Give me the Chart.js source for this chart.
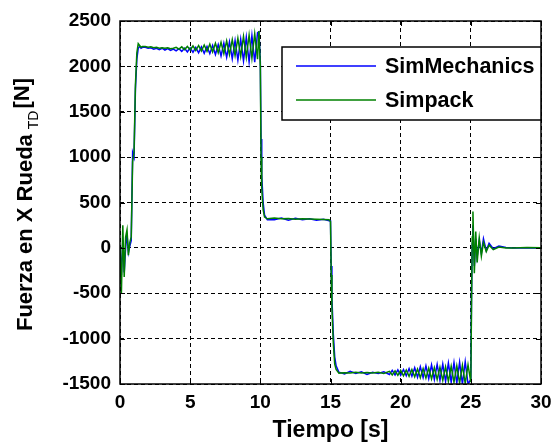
<!DOCTYPE html>
<html>
<head>
<meta charset="utf-8">
<script src="https://cdn.jsdelivr.net/npm/chart.js@4.4.1/dist/chart.umd.min.js"></script>
<style>
  body { margin: 0; background: #fff; }
  canvas { display: block; }
</style>
</head>
<body>
<canvas id="fuerzaChart" width="553" height="444"></canvas>
<script>
/*--datos--*/
var tiempo = [
  0, 0.1, 0.2, 0.3, 0.4, 0.5, 0.6, 0.7, 0.8, 0.9, 1.0, 1.1, 1.2, 1.3, 1.4, 1.5, 1.6,
  1.8, 2.0, 2.2, 2.4, 2.6, 2.8, 3.0, 3.2, 3.4, 3.6, 3.8, 4.0, 4.2, 4.4, 4.6, 4.8, 5.0,
  5.2, 5.4, 5.6, 5.8, 6.0, 6.2, 6.4, 6.6, 6.8, 7.0, 7.2, 7.4, 7.6, 7.8, 8.0, 8.2, 8.4,
  8.6, 8.8, 9.0, 9.2, 9.4, 9.6, 9.8,
  9.9, 10.0, 10.05, 10.1, 10.2, 10.3, 10.5,
  11.0, 11.5, 12.0, 12.5, 13.0, 13.5, 14.0, 14.5, 14.9,
  15.0, 15.05, 15.1, 15.2, 15.3, 15.4,
  15.6, 16.0, 16.4, 16.8, 17.2, 17.6, 18.0, 18.4, 18.8,
  19.2, 19.4, 19.6, 19.8, 20.0, 20.2, 20.4, 20.6, 20.8, 21.0, 21.2, 21.4, 21.6, 21.8,
  22.0, 22.2, 22.4, 22.6, 22.8, 23.0, 23.2, 23.4, 23.6, 23.8, 24.0, 24.2, 24.4, 24.6, 24.8,
  25.0, 25.05, 25.1, 25.15, 25.25, 25.35, 25.45, 25.6, 25.75, 25.9, 26.1, 26.3, 26.6,
  27.0, 27.5, 28.0, 29.0, 30.0
];

var simMechanics = [
  0, -300, 80, -270, 0, 150, -50, 20, 80, 1050, 1000, 1750, 2080, 2200, 2220, 2200, 2210,
  2210, 2200, 2205, 2190, 2200, 2185, 2200, 2180, 2195, 2175, 2190, 2170, 2195, 2165, 2200, 2160, 2205,
  2155, 2210, 2150, 2215, 2145, 2220, 2140, 2230, 2130, 2240, 2115, 2255, 2100, 2270, 2085, 2285, 2070,
  2300, 2060, 2320, 2050, 2340, 2045, 2370,
  2380, 2050, 1200, 800, 500, 360, 310,
  310, 330, 305, 325, 310, 320, 305, 315, 300,
  300, -200, -550, -950, -1200, -1300,
  -1370, -1390, -1360, -1385, -1365, -1395, -1370, -1385, -1365,
  -1395, -1350, -1400, -1345, -1405, -1340, -1410, -1330, -1415, -1320, -1425, -1310, -1430, -1300,
  -1440, -1290, -1450, -1285, -1460, -1280, -1470, -1270, -1480, -1265, -1490, -1260, -1500, -1255, -1500,
  -1450, -500, 50, 250, -200, 100, -100, 80, -60, 100, -30, 50, -10,
  20, 5, 0, 0, 0
];

var simpack = [
  0, -500, 250, -320, 120, 200, -80, 60, 120, 950, 1050, 1800, 2150, 2250, 2230, 2210, 2220,
  2220, 2210, 2215, 2205, 2210, 2200, 2205, 2200, 2205, 2195, 2200, 2210, 2190, 2215, 2185, 2220, 2180,
  2225, 2175, 2230, 2170, 2235, 2165, 2245, 2160, 2255, 2150, 2265, 2140, 2280, 2130, 2295, 2120, 2310,
  2110, 2330, 2100, 2345, 2090, 2360, 2080,
  2390, 2000, 1000, 650, 420, 340, 320,
  330, 320, 325, 315, 320, 318, 315, 312, 310,
  290, -300, -650, -1050, -1280, -1340,
  -1380, -1375, -1380, -1370, -1378, -1372, -1380, -1370, -1385,
  -1360, -1400, -1355, -1405, -1350, -1410, -1345, -1415, -1340, -1420, -1335, -1430, -1330, -1435,
  -1325, -1445, -1320, -1450, -1315, -1460, -1310, -1470, -1305, -1480, -1300, -1490, -1295, -1495, -1290,
  -1480, -600, 120, 400, -280, 180, -160, 110, -90, 60, -40, 30, -20,
  10, 0, 0, 5, 0
];

var xTicks = [0, 5, 10, 15, 20, 25, 30];
var yTicks = [-1500, -1000, -500, 0, 500, 1000, 1500, 2000, 2500];
var seriesNames = ["SimMechanics", "Simpack"];
var seriesColors = ["#0000ff", "#008000"];
/*----*/

var FONT = "'Liberation Sans', Arial, sans-serif";

function pares(arr) {
  return tiempo.map(function (t, i) { return { x: t, y: arr[i] }; });
}

// frame + inward ticks like matlab
var marcoPlugin = {
  id: 'marco',
  afterDatasetsDraw: function (chart) {
    var ctx = chart.ctx, a = chart.chartArea;
    var xs = chart.scales.x, ys = chart.scales.y;
    ctx.save();
    ctx.strokeStyle = '#000';
    ctx.lineWidth = 1;
    ctx.beginPath();
    xs.ticks.forEach(function (tk) {
      var px = Math.round(xs.getPixelForValue(tk.value)) + 0.5;
      ctx.moveTo(px, a.bottom); ctx.lineTo(px, a.bottom - 5);
      ctx.moveTo(px, a.top); ctx.lineTo(px, a.top + 5);
    });
    ys.ticks.forEach(function (tk) {
      var py = Math.round(ys.getPixelForValue(tk.value)) + 0.5;
      ctx.moveTo(a.left, py); ctx.lineTo(a.left + 5, py);
      ctx.moveTo(a.right, py); ctx.lineTo(a.right - 5, py);
    });
    ctx.stroke();
    ctx.lineWidth = 1.5;
    ctx.strokeRect(a.left, a.top, a.right - a.left, a.bottom - a.top);

    // legend box (right edge sits on the frame)
    var lx = 282, ly = 47, lw = a.right - 282, lh = 73;
    ctx.fillStyle = '#fff';
    ctx.fillRect(lx, ly, lw, lh);
    ctx.lineWidth = 1.5;
    ctx.strokeRect(lx, ly, lw, lh);
    ctx.font = 'bold 21.5px ' + FONT;
    ctx.textBaseline = 'middle';
    ctx.textAlign = 'left';
    chart.data.datasets.forEach(function (ds, i) {
      var yy = ly + 19 + i * 34;
      ctx.strokeStyle = ds.borderColor;
      ctx.lineWidth = 1.5;
      ctx.beginPath();
      ctx.moveTo(lx + 14, yy); ctx.lineTo(lx + 94, yy);
      ctx.stroke();
      ctx.fillStyle = '#000';
      ctx.fillText(ds.label, lx + 103, yy + 1);
    });
    ctx.restore();
  }
};

// y title with subscript TD
var tituloYPlugin = {
  id: 'tituloY',
  afterDraw: function (chart) {
    var ctx = chart.ctx, a = chart.chartArea;
    var main = 'Fuerza en X Rueda', sub = 'TD', fin = '[N]';
    ctx.save();
    ctx.fillStyle = '#000';
    ctx.font = 'bold 22px ' + FONT;
    var w1 = ctx.measureText(main).width;
    var w3 = ctx.measureText(fin).width;
    ctx.font = '14px ' + FONT;
    var w2 = ctx.measureText(sub).width;
    var total = w1 + 5 + w2 + 2 + w3;
    var cy = (a.top + a.bottom) / 2;
    ctx.translate(32, cy + total / 2 + 2);
    ctx.rotate(-Math.PI / 2);
    ctx.textBaseline = 'alphabetic';
    ctx.font = 'bold 22px ' + FONT;
    ctx.fillText(main, 0, 0);
    ctx.font = '14px ' + FONT;
    ctx.fillText(sub, w1 + 5, 6);
    ctx.font = 'bold 22px ' + FONT;
    ctx.fillText(fin, w1 + 5 + w2 + 2, -3);
    ctx.restore();
  }
};

new Chart(document.getElementById('fuerzaChart'), {
  type: 'line',
  data: {
    datasets: [
      {
        label: seriesNames[0],
        data: pares(simMechanics),
        borderColor: seriesColors[0],
        borderWidth: 1.5,
        pointRadius: 0,
        tension: 0,
        order: 2
      },
      {
        label: seriesNames[1],
        data: pares(simpack),
        borderColor: seriesColors[1],
        borderWidth: 1.5,
        pointRadius: 0,
        tension: 0,
        order: 1
      }
    ]
  },
  options: {
    responsive: false,
    animation: false,
    layout: { padding: { left: 0, right: 12, top: 21, bottom: 0 } },
    plugins: {
      legend: { display: false },
      tooltip: { enabled: false }
    },
    scales: {
      x: {
        type: 'linear',
        min: xTicks[0],
        max: xTicks[xTicks.length - 1],
        afterBuildTicks: function (s) { s.ticks = xTicks.map(function (v) { return { value: v }; }); },
        afterFit: function (s) { s.height = 60; s.paddingLeft = 0; s.paddingRight = 0; },
        ticks: {
          color: '#000',
          padding: 7,
          maxRotation: 0,
          callback: function (v) { return String(v); },
          font: { family: FONT, size: 19, weight: 'bold' }
        },
        grid: { color: '#000', lineWidth: 1, drawTicks: false },
        border: { display: false, dash: [4, 3] },
        title: {
          display: true,
          text: 'Tiempo [s]',
          color: '#000',
          padding: { top: 0, bottom: 0 },
          font: { family: FONT, size: 23, weight: 'bold' }
        }
      },
      y: {
        min: yTicks[0],
        max: yTicks[yTicks.length - 1],
        afterBuildTicks: function (s) { s.ticks = yTicks.map(function (v) { return { value: v }; }); },
        afterFit: function (s) { s.width = 120; s.paddingTop = 0; s.paddingBottom = 0; },
        ticks: {
          color: '#000',
          padding: 9,
          callback: function (v) { return String(v); },
          font: { family: FONT, size: 19, weight: 'bold' }
        },
        grid: { color: '#000', lineWidth: 1, drawTicks: false },
        border: { display: false, dash: [4, 3] }
      }
    }
  },
  plugins: [marcoPlugin, tituloYPlugin]
});
</script>
</body>
</html>
